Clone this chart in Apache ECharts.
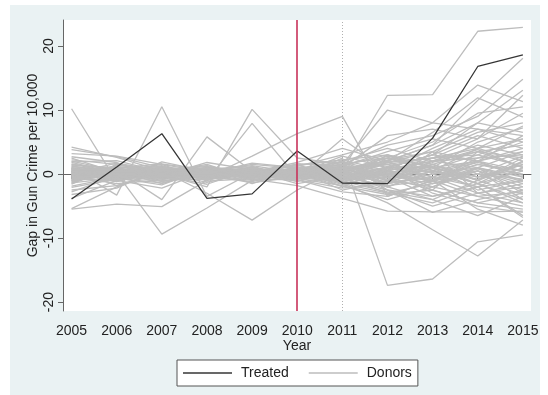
<!DOCTYPE html>
<html>
<head>
<meta charset="utf-8">
<script src="https://cdn.jsdelivr.net/npm/echarts@6/dist/echarts.min.js"></script>
<style>
  html, body { margin: 0; padding: 0; background: #ffffff; }
  #panel { position: absolute; left: 10px; top: 5px; width: 530px; height: 390px; background: #eaf2f3; }
  #chart { position: absolute; left: 0; top: 0; width: 548px; height: 395px; }
</style>
</head>
<body>
<div id="panel"></div>
<div id="chart"></div>
<script>
// ---- data ----
var years = [2005, 2006, 2007, 2008, 2009, 2010, 2011, 2012, 2013, 2014, 2015];
var xTicks = [2005, 2006, 2007, 2008, 2009, 2010, 2011, 2012, 2013, 2014, 2015];
var yTicks = [-20, -10, 0, 10, 20];
var treatmentYear = 2010;
var markYear = 2011;

var treated = [-3.9, 1.1, 6.3, -3.8, -3.1, 3.6, -1.4, -1.5, 5.6, 16.8, 18.6];

var donors = [
  [1.5, 0.8, 0.3, -0.4, 0.6, 0.4, 0.6, 12.3, 12.4, 22.3, 22.9],
  [0.4, -0.9, 0.8, -0.5, 2.8, 6.3, 9.0, -3.5, -1.0, 2.0, 3.5],
  [10.2, -1.2, 0.5, 0.8, -0.3, 1.0, -0.5, 1.8, 2.5, 4.0, 5.5],
  [0.9, -3.3, 10.5, -3.5, 0.2, -0.8, 1.2, -2.0, 0.5, -1.5, 2.0],
  [-1.0, 0.6, -4.0, 5.8, 0.4, 1.5, -1.0, 3.0, 1.0, 5.0, 7.2],
  [0.3, 1.2, 0.0, -2.0, 10.1, 2.5, 1.5, 4.5, 6.0, 9.0, 14.8],
  [-0.5, 0.2, 1.5, -1.0, 7.9, -0.5, 5.5, 0.5, -2.5, 3.5, 1.0],
  [-5.4, -2.0, 0.5, 1.0, -1.5, 0.8, -1.5, -3.0, -4.5, -2.0, -6.5],
  [1.8, 0.1, -9.4, -5.3, -1.0, 0.2, -0.8, 2.0, 4.5, 8.0, 6.5],
  [-1.5, 1.5, 0.5, -3.0, -7.2, -2.5, 1.0, -1.5, 3.5, -3.0, -4.5],
  [-5.5, -4.7, -5.1, -1.0, 1.2, -0.5, 2.0, -2.5, -6.0, -4.0, -2.5],
  [-1.0, 0.5, -0.5, 0.3, 1.0, -0.8, 2.5, -17.4, -16.4, -10.6, -9.5],
  [0.5, -1.0, 0.8, -0.5, 0.0, 1.5, -1.5, -4.5, -8.7, -12.8, -7.2],
  [2.0, 0.5, -1.5, 0.5, -0.8, -1.8, -3.8, -5.8, -5.9, -5.9, -5.8],
  [0.2, 0.8, -0.6, 1.0, 0.5, -0.4, 0.8, 2.0, 4.5, 11.5, 18.1],
  [-0.8, 0.4, 1.0, -0.2, -1.0, 0.6, 1.5, 10.0, 8.0, 7.0, 5.0],
  [1.0, -0.5, 0.2, 0.8, -0.6, 1.2, 3.0, 5.0, 8.0, 13.9, 11.3],
  [-1.2, 0.0, 0.7, -0.9, 0.3, 1.8, 4.0, 2.0, 6.5, 11.9, 8.9],
  [0.6, 1.0, -0.3, 0.4, -0.5, 0.9, -2.0, 1.0, 3.0, 8.0, 13.1],
  [-0.3, -0.8, 1.2, 0.2, 0.9, -1.2, 1.0, 6.0, 7.0, 5.5, 12.3],
  [3.8, 2.7, 1.0, -0.5, 0.8, 0.3, -1.0, 2.5, 5.0, 9.5, 10.5],
  [4.2, 2.6, 0.5, 1.2, -0.5, 0.8, 1.5, -1.0, 2.0, 3.5, 4.5],
  [3.2, 2.8, 1.5, 0.3, 1.0, -0.6, -1.2, 0.5, -2.0, 1.0, -3.0],
  [2.7, 1.8, -0.8, 0.9, 0.2, 1.3, 2.2, 3.0, 1.5, -1.0, 2.5],
  [-2.5, -1.8, 0.4, -0.9, 0.6, -0.2, -0.8, -2.5, -3.5, -1.5, -4.0],
  [-3.8, -1.0, -2.2, 0.5, -0.4, 0.9, 1.0, 0.0, -1.0, 2.5, 3.0],
  [1.2, 0.4, -0.3, 1.8, 0.7, -0.5, 0.3, 1.8, 3.5, 2.0, 6.0],
  [-0.6, 1.1, 0.9, -0.4, -1.2, 0.4, -2.5, -1.0, 1.0, -2.5, -1.0],
  [0.8, -0.7, -1.4, 0.2, 1.5, 0.9, 1.8, -0.5, -2.5, -4.5, -3.0],
  [-1.9, -0.5, 0.6, 1.3, -0.2, -1.1, 0.5, 2.5, 0.5, 4.0, 2.0],
  [2.2, 1.5, 0.2, -1.3, 0.4, 0.7, -0.5, -3.0, -1.5, 0.5, -2.0],
  [0.0, 0.9, 1.6, 0.6, -0.9, 0.1, 2.8, 1.0, 3.0, 6.0, 4.0],
  [-0.4, -1.5, -0.9, 0.8, 1.1, -0.7, -1.8, -4.0, -2.0, -3.5, -5.0],
  [1.6, 0.1, 0.8, -0.7, -0.3, 1.6, 1.2, 3.5, 5.5, 4.0, 7.5],
  [-1.3, 0.7, -0.2, -1.6, 0.8, -0.3, 0.2, -1.5, -0.5, 1.5, 0.0],
  [0.5, -1.2, 1.9, 0.4, -0.6, 0.5, -1.0, 0.8, -3.0, -5.0, -6.0],
  [-2.8, -0.3, -1.1, 0.1, 1.7, 1.0, 0.6, 2.0, -1.0, 1.0, 3.5],
  [1.9, 2.1, 0.3, 1.5, -0.8, -0.9, -2.2, -1.5, 1.5, -0.5, 1.5],
  [-0.9, -0.2, 0.4, -0.3, 0.2, 0.3, 1.0, 1.5, 2.5, 5.5, 9.5],
  [0.3, -0.6, -1.7, 0.9, 0.5, -1.5, -0.3, -2.0, -4.0, -6.5, -3.5],
  [-1.6, 1.4, 0.7, -0.5, -0.1, 0.6, 2.0, 4.0, 2.0, 1.0, -1.0],
  [2.5, 0.2, -0.5, 0.6, 1.3, 0.2, -1.6, 0.0, 2.5, 3.0, 5.5],
  [-0.2, 0.6, 1.3, -1.1, -0.7, 1.1, 0.4, -2.5, -5.0, -3.0, -1.5],
  [1.0, -1.8, 0.1, 0.3, 0.9, -0.1, 1.3, 3.0, 0.0, -2.0, 1.0],
  [-3.2, -2.2, 0.9, 0.7, -0.5, 0.4, -0.6, 1.0, 3.0, 2.0, -0.5],
  [0.7, 0.3, -1.0, -0.8, 0.1, -0.9, -2.8, -3.5, -1.0, -5.5, -8.0],
  [-0.7, -1.1, 0.2, 1.0, 0.6, 0.8, 0.9, -1.0, 1.5, 3.5, 2.5],
  [1.4, 1.0, 1.1, -0.1, -1.4, -0.4, 0.0, 1.5, -1.5, 0.0, -2.5],
  [-1.1, 0.0, -0.6, 0.5, 0.4, 1.4, 2.2, 0.5, 4.0, 7.0, 6.0],
  [0.1, 1.7, 0.5, -0.6, 0.7, -0.2, -0.4, -2.0, 0.5, -1.5, -4.5],
  [-2.1, -0.8, -0.3, 0.9, -0.9, 0.0, 1.6, 2.5, 1.0, 2.0, 0.5],
  [0.9, 0.5, 0.6, 0.0, 0.3, 0.5, -1.3, 0.5, 2.0, 4.5, 3.0],
  [-0.5, -0.3, -0.8, -0.4, 0.0, -0.6, 0.8, -0.5, -3.5, -2.0, -6.8],
  [1.3, -0.1, 0.0, 0.6, -0.4, 0.2, -0.2, 1.0, 1.0, -1.0, 1.5],
  [-0.3, 0.8, -0.4, -0.2, 0.5, -0.3, 0.5, -1.0, -2.0, 0.5, -1.5],
  [0.4, -0.4, 0.3, 0.3, -0.2, 0.1, -0.9, 0.3, 0.5, 2.0, 4.0],
  [-0.8, 0.2, 0.1, -0.6, 0.2, 0.7, 0.3, 1.8, -0.5, -3.0, -2.0],
  [0.6, -0.2, -0.2, 0.4, -0.3, -0.2, 1.1, -1.5, 0.0, 1.0, -0.5],
  [-0.1, 0.3, 0.4, -0.3, 0.8, 0.4, -0.6, 0.0, 1.5, -1.0, 2.0],
  [0.2, -0.9, -0.1, 0.7, -0.6, -0.4, 0.1, 2.2, 3.5, 6.5, 8.0],
  [-0.6, 0.4, 0.7, 0.1, 0.1, 0.3, -0.4, -1.8, -1.0, -3.5, -2.8],
  [1.1, 0.6, -0.5, -0.5, 0.4, -0.1, 0.6, 0.0, -1.0, 1.5, 0.5],
  [-1.4, -0.6, 0.3, 0.2, -0.3, 0.6, 1.4, -0.5, 2.5, 0.0, 2.8],
  [0.3, 0.1, -0.7, 0.5, 0.6, -0.5, -0.8, 1.2, -0.5, -2.0, -1.0],
  [-0.2, -0.5, 0.5, -0.1, -0.5, 0.9, 0.3, -0.8, 0.8, 3.0, 1.2],
  [0.8, 0.2, 0.2, -0.9, 0.2, -0.3, -1.1, -2.8, -4.0, -1.0, -3.2],
  [-0.4, 0.9, -0.3, 0.3, -0.1, 0.2, 0.7, 0.8, 2.0, 2.5, 5.0],
  [0.0, -0.3, 0.9, 0.8, 0.3, -0.7, 0.0, -0.2, -1.5, 0.0, -0.8],
  [-1.0, 0.5, -1.2, -0.2, 0.9, 0.1, -0.5, 0.6, 1.2, -1.5, 0.5],
  [0.5, 0.0, 0.0, 0.1, -0.7, 0.4, 0.9, 1.5, 0.2, 1.8, -0.2],
  [-0.3, -0.7, 0.4, -0.7, 0.4, -0.2, -0.2, -1.2, 0.5, -0.8, 1.8],
  [0.7, 0.7, -0.6, 0.6, -0.1, 0.5, -0.7, 0.4, -0.8, 0.5, -4.0],
  [-0.7, 0.1, 0.6, 0.4, 0.2, -0.5, 0.2, -0.6, 1.8, 3.8, 1.0],
  [0.1, -0.4, -0.2, -0.5, 0.6, 0.0, -1.9, -3.2, -2.5, -4.5, -5.5],
  [-0.1, 0.4, 0.3, 0.9, -0.4, 0.8, 1.9, 0.2, -1.2, 0.8, -1.2],
  [0.4, -0.1, -0.4, -0.3, 0.3, -0.4, 0.4, 2.8, 1.0, -0.5, 0.8]
];

var legendNames = ['Treated', 'Donors'];
var yTitle = 'Gap in Gun Crime per 10,000';
var xTitle = 'Year';

// ---- chart ----
var FONT = '"Liberation Sans", Arial, sans-serif';
var TREATED_COLOR = '#363636';
var DONOR_COLOR = '#bdbdbd';
var chart = echarts.init(document.getElementById('chart'), null, { renderer: 'canvas' });

function pairs(vals) {
  return years.map(function (y, i) { return [y, vals[i]]; });
}

var series = donors.map(function (d) {
  return {
    name: 'Donors', type: 'line', data: pairs(d),
    symbol: 'none', silent: true, z: 2,
    lineStyle: { color: DONOR_COLOR, width: 1.3 },
    itemStyle: { color: DONOR_COLOR }
  };
});

series.push({
  name: 'Treated', type: 'line', data: pairs(treated),
  symbol: 'none', z: 4,
  lineStyle: { color: TREATED_COLOR, width: 1.3 },
  itemStyle: { color: TREATED_COLOR },
  markLine: {
    silent: true, symbol: 'none', label: { show: false },
    data: [
      { xAxis: treatmentYear, lineStyle: { color: '#c8335b', width: 1.6, type: 'solid' } },
      { xAxis: markYear, lineStyle: { color: '#b0b0b0', width: 1, type: [1, 2] } }
    ]
  }
});

chart.setOption({
  animation: false,
  backgroundColor: 'transparent',
  grid: { left: 63, right: 17, top: 20, bottom: 84, show: true, backgroundColor: '#ffffff', borderWidth: 0, containLabel: false },
  legend: {
    data: [
      { name: legendNames[0], icon: 'rect', itemStyle: { color: TREATED_COLOR } },
      { name: legendNames[1], icon: 'rect', itemStyle: { color: DONOR_COLOR } }
    ],
    left: 177, top: 360,
    orient: 'horizontal',
    backgroundColor: '#ffffff', borderColor: '#555555', borderWidth: 1, borderRadius: 0,
    padding: [6, 6, 6, 6],
    itemWidth: 49, itemHeight: 1.4, itemGap: 20,
    textStyle: { fontFamily: FONT, fontSize: 14, color: '#222', padding: [0, 0, 0, 4], lineHeight: 14 }
  },
  xAxis: {
    type: 'value', min: 2004.81, max: 2015.18,
    name: xTitle, nameLocation: 'middle', nameGap: 28, nameMoveOverlap: false,
    nameTextStyle: { fontFamily: FONT, fontSize: 14, color: '#222' },
    axisLine: { show: true, lineStyle: { color: '#666', width: 1 } },
    axisTick: { show: true, length: 5, customValues: xTicks, lineStyle: { color: '#666' } },
    axisLabel: { customValues: xTicks, fontFamily: FONT, fontSize: 14, color: '#222', margin: 13, formatter: function (v) { return String(v); } },
    splitLine: { show: false }
  },
  yAxis: {
    type: 'value', min: -21.4, max: 24.06,
    name: yTitle, nameLocation: 'middle', nameGap: 23, nameMoveOverlap: false,
    nameTextStyle: { fontFamily: FONT, fontSize: 14, color: '#222' },
    axisLine: { show: true, lineStyle: { color: '#666', width: 1 } },
    axisTick: { show: true, length: 5, customValues: yTicks, lineStyle: { color: '#666' } },
    axisLabel: { customValues: yTicks, rotate: 90, fontFamily: FONT, fontSize: 14, color: '#222', margin: 7 },
    splitLine: { show: false }
  },
  series: series
});
</script>
</body>
</html>
